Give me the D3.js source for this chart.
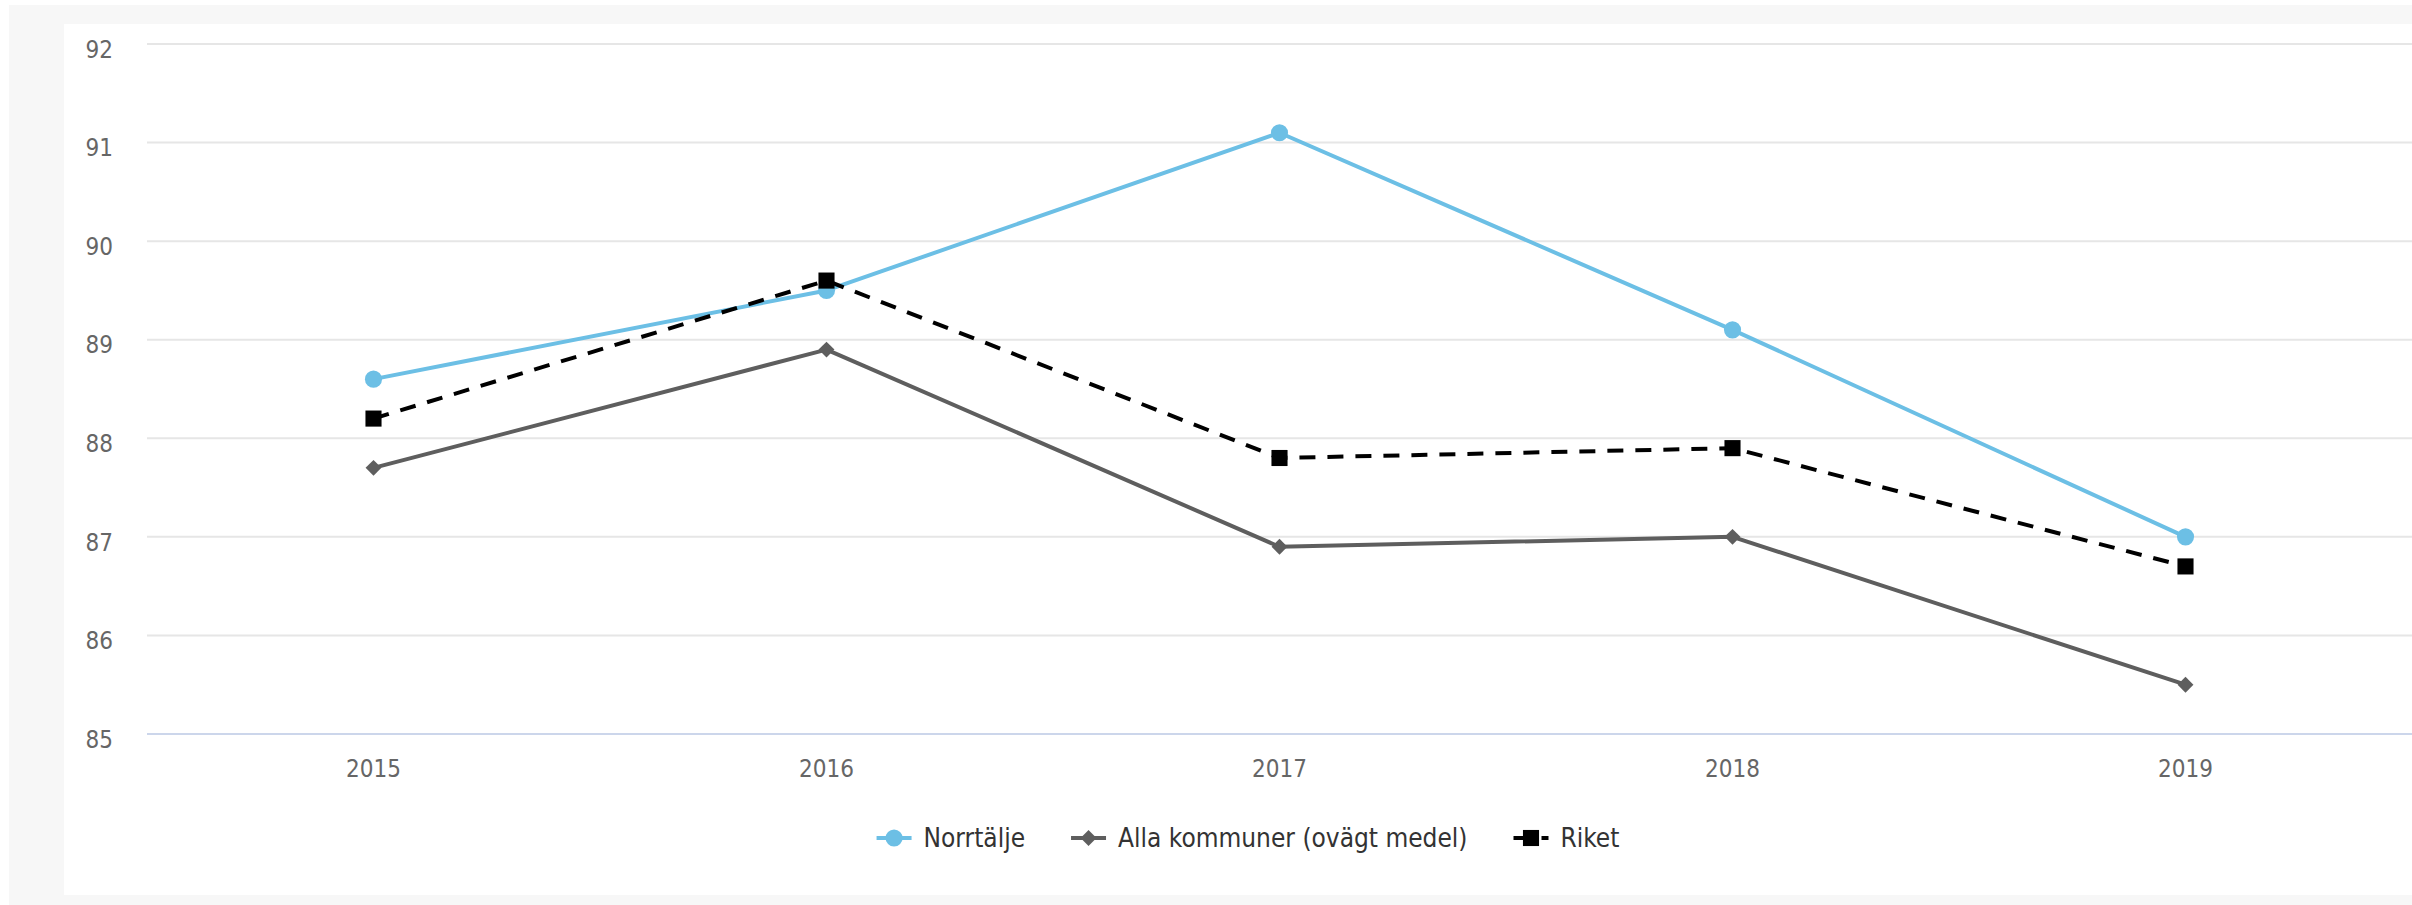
<!DOCTYPE html>
<html>
<head>
<meta charset="utf-8">
<script src="https://cdn.jsdelivr.net/npm/d3@7"></script>
<style>
  html, body { margin: 0; padding: 0; background: #ffffff; }
  svg { display: block; }
  text { font-family: "DejaVu Sans Condensed", "DejaVu Sans", sans-serif; }
</style>
</head>
<body>
<svg id="chart" width="2412" height="905"></svg>
<script>
const categories = ["2015", "2016", "2017", "2018", "2019"];
const norrtalje = [88.6, 89.5, 91.1, 89.1, 87.0];
const allaKommuner = [87.7, 88.9, 86.9, 87.0, 85.5];
const riket = [88.2, 89.6, 87.8, 87.9, 86.7];
const yTicks = [85, 86, 87, 88, 89, 90, 91, 92];
const seriesNames = ["Norrtälje", "Alla kommuner (ovägt medel)", "Riket"];

const series = [
  { name: seriesNames[0], values: norrtalje, color: "#6cbfe5", symbol: d3.symbolCircle, size: 230, dash: null },
  { name: seriesNames[1], values: allaKommuner, color: "#5e5e5e", symbol: d3.symbolDiamond2, size: 160, dash: null },
  { name: seriesNames[2], values: riket, color: "#000000", symbol: d3.symbolSquare2, size: 330, dash: "16,12" }
];

const svg = d3.select("#chart");
const W = 2412, H = 905;

// backgrounds
svg.append("rect").attr("x", 9).attr("y", 5).attr("width", W - 9).attr("height", H - 5).attr("fill", "#f7f7f7");
svg.append("rect").attr("x", 64).attr("y", 24).attr("width", W - 64).attr("height", 871).attr("fill", "#ffffff");

const plot = { left: 147, right: 2412, top: 44, bottom: 734 };

const x = d3.scaleBand().domain(categories).range([plot.left, plot.right]);
const y = d3.scaleLinear().domain([85, 92]).range([plot.bottom, plot.top]);

// gridlines
const grid = svg.append("g");
grid.selectAll("line").data(yTicks.filter(t => t !== 85)).join("line")
  .attr("x1", plot.left).attr("x2", plot.right)
  .attr("y1", d => y(d)).attr("y2", d => y(d))
  .attr("stroke", "#e6e6e6").attr("stroke-width", 2);

// y axis labels
const yAxis = d3.axisLeft(y).tickValues(yTicks).tickSize(0).tickPadding(0).tickFormat(d3.format("d"));
const gy = svg.append("g").attr("transform", `translate(113,0)`).call(yAxis);
gy.select(".domain").remove();
gy.selectAll("text").attr("font-size", 24).attr("fill", "#666666")
  .attr("font-family", "'DejaVu Sans Condensed', 'DejaVu Sans', sans-serif")
  .attr("dy", "0.55em");

// x axis
const xAxis = d3.axisBottom(x).tickSize(0).tickPadding(0);
const gx = svg.append("g").attr("transform", `translate(0,${plot.bottom})`).call(xAxis);
gx.select(".domain").attr("stroke", "#ccd6eb").attr("stroke-width", 2)
  .attr("d", `M${plot.left},0H${plot.right}`);
gx.selectAll("text").attr("font-size", 24).attr("fill", "#666666")
  .attr("font-family", "'DejaVu Sans Condensed', 'DejaVu Sans', sans-serif")
  .attr("dy", 0).attr("y", 43);

const cx = c => x(c) + x.bandwidth() / 2;

// lines
const line = d3.line().x(d => cx(d.c)).y(d => y(d.v));
series.forEach(s => {
  const pts = s.values.map((v, i) => ({ c: categories[i], v }));
  const g = svg.append("g");
  g.append("path").datum(pts)
    .attr("d", line)
    .attr("fill", "none")
    .attr("stroke", s.color)
    .attr("stroke-width", 4)
    .attr("stroke-linejoin", "round")
    .attr("stroke-dasharray", s.dash);
  g.selectAll("path.m").data(pts).join("path")
    .attr("class", "m")
    .attr("transform", d => `translate(${cx(d.c)},${y(d.v)})`)
    .attr("d", d3.symbol().type(s.symbol).size(s.size))
    .attr("fill", s.color);
});

// legend
const legend = svg.append("g");
const items = [];
let cursor = 0;
series.forEach((s, i) => {
  const g = legend.append("g");
  g.append("line").attr("x1", 0).attr("x2", 35).attr("y1", 0).attr("y2", 0)
    .attr("stroke", s.color).attr("stroke-width", 4).attr("stroke-dasharray", s.dash);
  g.append("path").attr("transform", "translate(17.5,0)")
    .attr("d", d3.symbol().type(s.symbol).size(s.size)).attr("fill", s.color);
  const t = g.append("text").attr("x", 47).attr("y", 9).attr("font-size", 26)
    .attr("fill", "#333333").text(s.name);
  const w = 47 + t.node().getComputedTextLength();
  g.attr("data-x", cursor);
  items.push({ g, x: cursor });
  cursor += w + 46;
});
const totalW = cursor - 46;
const startX = 1248 - totalW / 2;
items.forEach(it => it.g.attr("transform", `translate(${startX + it.x},838)`));
</script>
</body>
</html>
